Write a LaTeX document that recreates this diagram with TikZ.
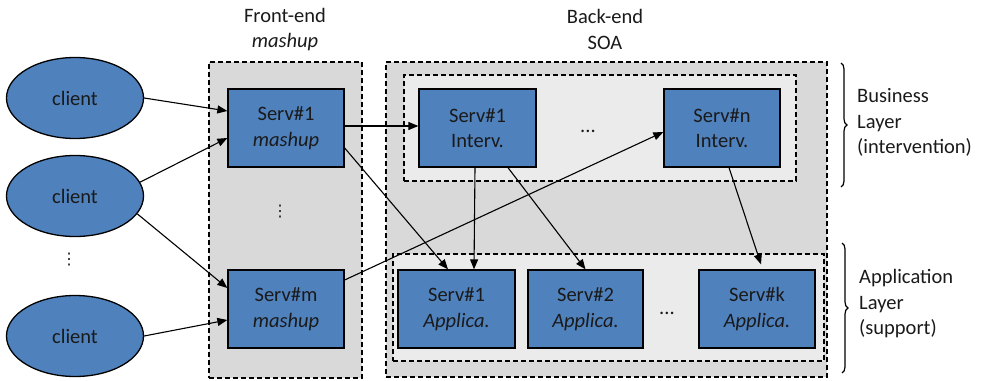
\documentclass[tikz,border=0pt]{standalone}
\usepackage{fontspec}
\setmainfont{Carlito}
\newfontfamily\dejavu{DejaVu Sans}
\usetikzlibrary{arrows.meta,decorations.pathreplacing,shapes.geometric}
\definecolor{sblue}{HTML}{4F81BD}
\definecolor{outergray}{HTML}{D9D9D9}
\definecolor{innergray}{HTML}{EBEBEB}
\definecolor{txt}{HTML}{1A1A1A}
\begin{document}
\begin{tikzpicture}[x=1pt,y=-1pt,
  font=\fontsize{20.5}{25.5}\selectfont, text=txt,
  serv/.style={draw=black, line width=1.3pt, fill=sblue, minimum width=116pt, minimum height=78pt, inner sep=0pt, align=center},
  client/.style={ellipse, draw=black, line width=1.3pt, fill=sblue, minimum width=137pt, minimum height=81pt, inner sep=0pt},
  group/.style={draw=black, dash pattern=on 5pt off 3pt, line width=1.2pt, inner sep=0pt},
  arr/.style={-{Triangle[length=10pt,width=8pt]}, line width=1.1pt},
  lbl/.style={anchor=west, align=left, inner sep=0pt},
  vdot/.style={inner sep=0pt, font=\dejavu\fontsize{16}{16}\selectfont},
  brc/.style={decorate, decoration={brace, amplitude=6pt}, line width=1.2pt}
]
\useasboundingbox (0,0) rectangle (982,380);
% group boxes
\node[group, fill=outergray, minimum width=153pt, minimum height=316pt] (fe) at (285.5,220) {};
\node[group, fill=outergray, minimum width=441pt, minimum height=315pt] (be) at (606.5,219.5) {};
\node[group, fill=innergray, minimum width=392pt, minimum height=106pt] (bus) at (600,128) {};
\node[group, fill=innergray, minimum width=431pt, minimum height=107pt] (app) at (608.5,307.5) {};
% titles
\node[align=center, inner sep=0pt] (tfe) at (285,29.5) {Front-end\\\textit{mashup}};
\node[align=center, inner sep=0pt] (tbe) at (605,29.5) {Back-end\\SOA};
% clients
\node[client] (c1) at (75,98) {client};
\node[client] (c2) at (75,196) {client};
\node[client] (c3) at (75,336) {client};
\node[vdot] (vd1) at (69,260) {⋮};
% front-end services
\node[serv] (s1m) at (286,128) {Serv\#1\\\textit{mashup}};
\node[serv] (smm) at (286,309) {Serv\#m\\\textit{mashup}};
\node[vdot] (vd2) at (280,212) {⋮};
% business layer
\node[serv, minimum width=117pt] (s1i) at (477.5,128) {Serv\#1\\Interv.};
\node[serv] (sni) at (722,128) {Serv\#n\\Interv.};
\node[anchor=base, inner sep=0pt] (dots1) at (588,132) {...};
% application layer
\node[serv, minimum width=117pt] (s1a) at (456.5,309) {Serv\#1\\\textit{Applica.}};
\node[serv, minimum width=115pt] (s2a) at (585.5,309) {Serv\#2\\\textit{Applica.}};
\node[serv] (ska) at (757,309) {Serv\#k\\\textit{Applica.}};
\node[anchor=base, inner sep=0pt] (dots2) at (667,314) {...};
% connectors
\draw[arr] (c1.east) -- ([yshift=17pt]s1m.west);
\draw[arr] (c2.12) -- ([yshift=-10pt]s1m.west);
\draw[arr] (c2.-16) -- ([yshift=21pt]smm.west);
\draw[arr] (c3.east) -- ([yshift=-11pt]smm.west);
\draw[arr] ([yshift=2pt]s1m.east) -- ([yshift=2pt]s1i.west);
\draw[arr] ([yshift=-20pt]s1m.east) -- ([xshift=-8.5pt]s1a.north);
\draw[arr] ([yshift=29pt]smm.east) -- ([yshift=-4pt]sni.west);
\draw[arr] ([xshift=-2.5pt]s1i.south) -- ([xshift=17.5pt]s1a.north);
\draw[arr] ([xshift=30.5pt]s1i.south) -- (s2a.north);
\draw[arr] ([xshift=7pt]sni.south) -- ([xshift=4pt,yshift=5pt]ska.north);
% braces and layer labels
\coordinate (b1t) at (841,63);
\coordinate (b1b) at (841,187);
\coordinate (b2t) at (842,243);
\coordinate (b2b) at (842,373);
\draw[brc] (b1t) -- (b1b);
\draw[brc] (b2t) -- (b2b);
\node[lbl] (lb) at (857,122.5) {Business\\Layer\\(intervention)};
\node[lbl] (la) at (859,304) {Application\\Layer\\(support)};
\end{tikzpicture}
\end{document}
